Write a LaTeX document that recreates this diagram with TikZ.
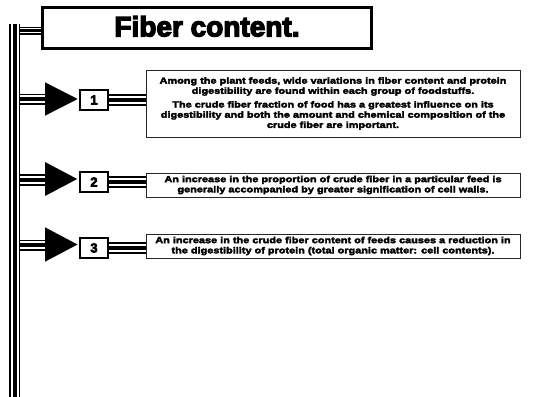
\documentclass[tikz,border=0pt]{standalone}
\usepackage{fontspec}
\newfontfamily\heavy{Liberation Sans}[BoldFeatures={FakeBold=3.5,FakeStretch=1.24}]
\newfontfamily\heavytitle{Liberation Sans}[BoldFeatures={FakeBold=4.5}]
\begin{document}
\begin{tikzpicture}[x=1pt,y=-1pt,
  triple/.style={draw=black,line width=11.2pt,
    postaction={draw=white,line width=8pt},
    postaction={draw=black,line width=4pt}},
  striple/.style={draw=black,line width=8pt,
    postaction={draw=white,line width=5.2pt},
    postaction={draw=black,line width=2.6pt}},
  titlebox/.style={draw=black,line width=3.3pt,fill=white,minimum width=328.5pt,
    minimum height=40.5pt,inner sep=0pt,font=\heavytitle\bfseries\fontsize{28}{28}\selectfont},
  numbox/.style={draw=black,line width=1.2pt,fill=white,minimum width=28pt,
    minimum height=20pt,inner sep=0pt,font=\heavytitle\bfseries\fontsize{13}{13}\selectfont},
  textbox/.style={draw=black!85,line width=1pt,fill=white,minimum width=374pt,
    inner sep=0pt,align=center,font=\heavy\bfseries\fontsize{8.8}{10.2}\selectfont},
  headfill/.style={fill=black}]
\useasboundingbox (0,0) rectangle (534,396);

% vertical pipe
\coordinate (ptop) at (14.7,24);
\coordinate (pbot) at (14.7,400);
\draw[triple] (ptop) -- (pbot);

% title
\node[titlebox] (title) at (207,28) {\raisebox{3.5pt}{Fiber content.}};
\coordinate (pt) at (20,30.7);
\draw[striple] (pt) -- (pt -| title.west);

% row 1
\coordinate (p1) at (20,99.3);
\coordinate (t1) at (45,99.3);
\draw[triple] (p1) -- (t1);
\path[headfill] (45,82.3) -- (77.7,99) -- (45,115.7) -- cycle;
\node[numbox] (n1) at (94,100) {1};
\node[textbox,minimum height=67pt] (b1) at (333,103.5)
 {Among the plant feeds, wide variations in fiber content and protein\\
  digestibility are found within each group of foodstuffs.\\[3.5pt]
  The crude fiber fraction of food has a greatest influence on its\\
  digestibility and both the amount and chemical composition of the\\
  crude fiber are important.};
\draw[triple] (n1.east) -- (n1.east -| b1.west);

% row 2
\coordinate (p2) at (20,180);
\coordinate (t2) at (45,180);
\draw[triple] (p2) -- (t2);
\path[headfill] (45,162) -- (77.2,179) -- (45,196) -- cycle;
\node[textbox,minimum height=24pt] (b2) at (333,185)
 {An increase in the proportion of crude fiber in a particular feed is\\
  generally accompanied by greater signification of cell walls.};
\node[numbox] (n2) at (94,182) {2};
\draw[triple] (n2.east) -- (n2.east -| b2.west);

% row 3
\coordinate (p3) at (20,245.3);
\coordinate (t3) at (45,245.3);
\draw[triple] (p3) -- (t3);
\path[headfill] (45,227.3) -- (77.5,244.5) -- (45,261.7) -- cycle;
\node[textbox,minimum height=24pt] (b3) at (333,246)
 {An increase in the crude fiber content of feeds causes a reduction in\\
  the digestibility of protein (total organic matter: cell contents).};
\node[numbox] (n3) at (94,248) {3};
\draw[triple] (n3.east) -- (n3.east -| b3.west);
\end{tikzpicture}
\end{document}
